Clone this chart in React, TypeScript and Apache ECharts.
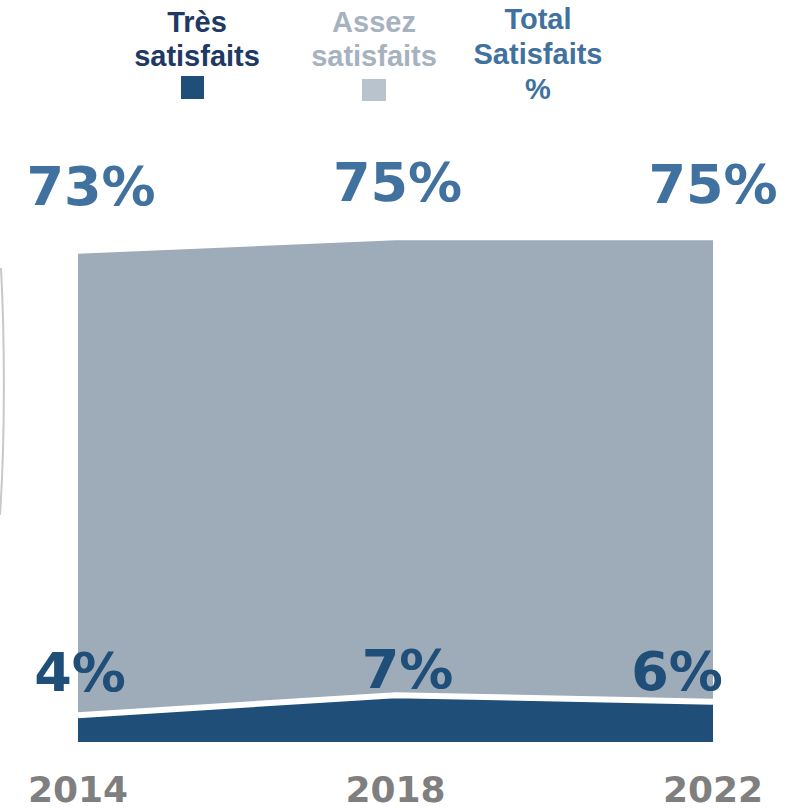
import React, { useEffect, useRef } from "react";
import * as echarts from "echarts";

const years = ["2014", "2018", "2022"];
const tresSatisfaits = [4, 7, 6];
const assezSatisfaits = [69, 68, 69];
const totalSatisfaits = [73, 75, 75];

const DARK = "#1f4e79";
const GRAY_AREA = "#9eabb8";
const TOTAL_COLOR = "#41729f";
const PCT_FONT = "'DejaVu Sans', Verdana, sans-serif";
const LEG_FONT = "'Liberation Sans', Arial, sans-serif";

const topOffsets = [[13, -10], [2, -1], [0, 1]];
const bottomOffsets = [[2, -16], [12, 1], [-36, -3]];

export default function App() {
  const ref = useRef<HTMLDivElement>(null);
  useEffect(() => {
    document.body.style.margin = "0";
    const chart = echarts.init(ref.current!, null, { renderer: "svg" });
    const option: any = {
      animation: false,
      backgroundColor: "#ffffff",
      grid: { left: 78, right: 95, top: 73, bottom: 68 },
      xAxis: {
        type: "category",
        data: years,
        boundaryGap: false,
        axisLine: { show: false },
        axisTick: { show: false },
        splitLine: { show: false },
        axisLabel: {
          color: "#7f7f7f",
          fontFamily: PCT_FONT,
          fontWeight: "bold",
          fontSize: 36,
          margin: 29,
        },
      },
      yAxis: {
        type: "value",
        min: 0,
        max: 100,
        show: false,
      },
      series: [
        {
          name: "Très satisfaits",
          type: "line",
          stack: "s",
          z: 3,
          symbol: "circle",
          symbolSize: 0,
          showSymbol: true,
          lineStyle: { color: "#ffffff", width: 6 },
          itemStyle: { color: DARK },
          areaStyle: { color: DARK, opacity: 1 },
          data: tresSatisfaits.map((v, i) => ({
            value: v,
            label: { offset: bottomOffsets[i] },
          })),
          label: {
            show: true,
            position: "top",
            distance: 0,
            formatter: (p: any) => p.value + "%",
            color: DARK,
            fontFamily: PCT_FONT,
            fontWeight: "bold",
            fontSize: 54,
          },
        },
        {
          name: "Assez satisfaits",
          type: "line",
          stack: "s",
          z: 2,
          symbol: "circle",
          symbolSize: 0,
          showSymbol: true,
          lineStyle: { width: 0, color: GRAY_AREA },
          itemStyle: { color: GRAY_AREA },
          areaStyle: { color: GRAY_AREA, opacity: 1 },
          data: assezSatisfaits.map((v, i) => ({
            value: v,
            label: { offset: topOffsets[i] },
          })),
          label: {
            show: true,
            position: "top",
            distance: 30,
            formatter: (p: any) => totalSatisfaits[p.dataIndex] + "%",
            color: TOTAL_COLOR,
            fontFamily: PCT_FONT,
            fontWeight: "bold",
            fontSize: 54,
          },
        },
      ],
      graphic: [
        {
          type: "text",
          x: 197,
          y: 5,
          style: {
            text: "Très\nsatisfaits",
            fill: "#203864",
            font: `bold 29px ${LEG_FONT}`,
            textAlign: "center",
            textVerticalAlign: "top",
            lineHeight: 34,
          },
        },
        { type: "rect", shape: { x: 181, y: 76, width: 23, height: 23 }, style: { fill: DARK } },
        {
          type: "text",
          x: 374,
          y: 5,
          style: {
            text: "Assez\nsatisfaits",
            fill: "#a6b2bf",
            font: `bold 29px ${LEG_FONT}`,
            textAlign: "center",
            textVerticalAlign: "top",
            lineHeight: 34,
          },
        },
        { type: "rect", shape: { x: 362, y: 79, width: 24, height: 22 }, style: { fill: "#b8c3ce" } },
        {
          type: "text",
          x: 538,
          y: 1,
          style: {
            text: "Total\nSatisfaits\n%",
            fill: TOTAL_COLOR,
            font: `bold 29px ${LEG_FONT}`,
            textAlign: "center",
            textVerticalAlign: "top",
            lineHeight: 35,
          },
        },
        {
          type: "bezierCurve",
          shape: { x1: 1, y1: 268, x2: 0, y2: 515, cpx1: 5, cpy1: 345, cpx2: 5, cpy2: 440 },
          style: { stroke: "#c8c8c8", lineWidth: 2, fill: "none" },
        },
      ],
    };
    chart.setOption(option);
    return () => chart.dispose();
  }, []);
  return <div ref={ref} style={{ width: 808, height: 810 }} />;
}
